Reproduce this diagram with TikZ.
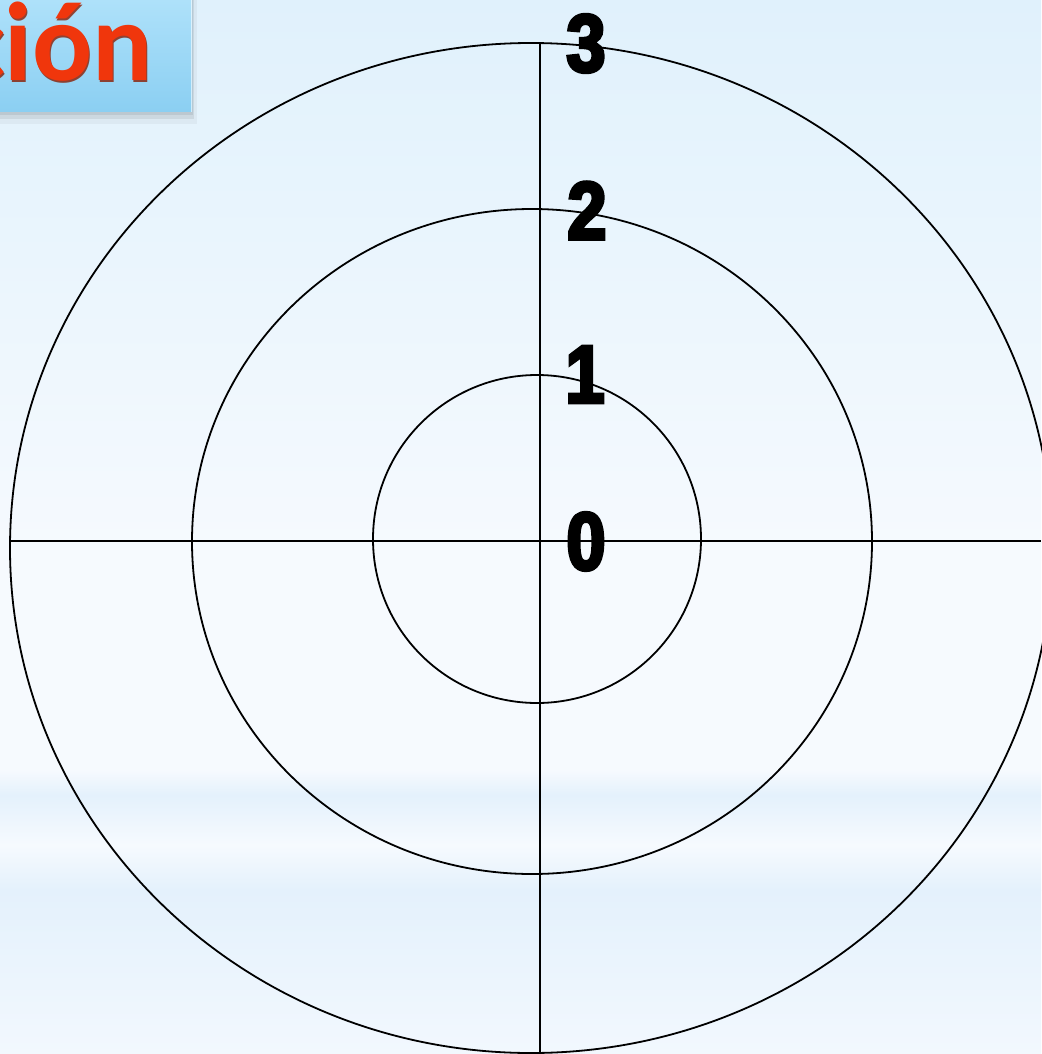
\documentclass[tikz,border=0pt]{standalone}
\usepackage{fontspec}
\newfontfamily\titlefont{Carlito}[BoldFont=* Bold]
\newfontfamily\numfont{Liberation Sans Bold}[FakeStretch=0.86,FakeBold=4]
\definecolor{bgtop}{HTML}{E0F1FC}
\definecolor{bgmid}{HTML}{F6FAFE}
\definecolor{bgband}{HTML}{E4F1FC}
\definecolor{bgbot}{HTML}{F2F8FE}
\definecolor{boxtop}{HTML}{AEE1FA}
\definecolor{boxbot}{HTML}{8BCFF2}
\definecolor{titlered}{HTML}{F0360C}
\definecolor{titleshadow}{HTML}{8A1C02}
\tikzset{
  ring/.style={draw=black,line width=1.8pt},
  axisline/.style={draw=black,line width=1.5pt},
  digit/.style={inner sep=0pt,font=\numfont\fontsize{82}{90}\selectfont,text=black},
  titletext/.style={anchor=base east,inner sep=0pt,font=\titlefont\bfseries\fontsize{112}{120}\selectfont},
}
\begin{document}
\begin{tikzpicture}[x=1pt,y=-1pt]
\useasboundingbox (0,0) rectangle (1041,1054);
% background
\shade[top color=bgtop,bottom color=bgmid] (0,0) rectangle (1041,560);
\fill[bgmid] (0,559) rectangle (1041,770);
\shade[top color=bgmid,bottom color=bgband] (0,770) rectangle (1041,795);
\shade[top color=bgband,bottom color=bgmid] (0,795) rectangle (1041,845);
\shade[top color=bgmid,bottom color=bgband] (0,845) rectangle (1041,890);
\shade[top color=bgband,bottom color=bgbot] (0,890) rectangle (1041,1054);
% title box
\fill[black,opacity=0.04] (0,0) rectangle (197,124);
\fill[black,opacity=0.07] (0,0) rectangle (194,119);
\fill[black,opacity=0.07] (0,0) rectangle (193,115);
\shade[top color=boxtop,bottom color=boxbot] (0,0) rectangle (192,112);
\draw[white,opacity=0.6,line width=1pt] (191.5,0) -- (191.5,112);
\begin{scope}
\clip (0,0) rectangle (192,112);
\node[titletext,text=titleshadow,opacity=0.8] (titleshadow) at (154,82.5) {ción};
\node[titletext,text=titlered] (title) at (153,80.5) {ción};
\end{scope}
% rings
\draw[ring] (531,548) ellipse [x radius=521, y radius=505];
\draw[ring] (532,541.5) ellipse [x radius=340, y radius=332.5];
\draw[ring] (537,539) circle [radius=164];
% axes
\coordinate (vtop) at (540,43);
\coordinate (vbot) at (540,1054);
\coordinate (hleft) at (10,541);
\coordinate (hright) at (1041,541);
\draw[axisline] (vtop) -- (vbot);
\draw[axisline] (hleft) -- (hright);
% digits
\node[digit] (d3) at (586,43.5) {3};
\node[digit] (d2) at (587,210.5) {2};
\node[digit] (d1) at (585,374.5) {1};
\node[digit] (d0) at (586,541.5) {0};
\end{tikzpicture}
\end{document}
